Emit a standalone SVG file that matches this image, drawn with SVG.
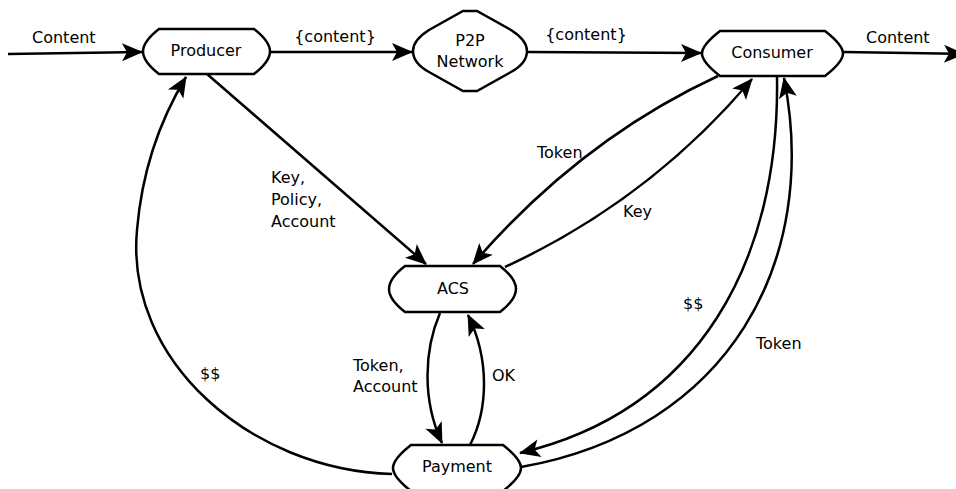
<svg xmlns="http://www.w3.org/2000/svg" width="956" height="489" viewBox="0 0 956 489">
<style>
.node{fill:#fff;stroke:#000;stroke-width:2.5;stroke-linejoin:miter}
.edge{fill:none;stroke:#000;stroke-width:2.5}
.arr{marker-end:url(#ah)}
text{font-family:"DejaVu Sans",sans-serif;font-size:16px;fill:#000}
.c{text-anchor:middle}
</style>
<defs>
<marker id="ah" markerUnits="userSpaceOnUse" markerWidth="24" markerHeight="22" viewBox="-22 -11 24 22" refX="0" refY="0" orient="auto">
<path d="M1 0 L-20 -9 L-15 0 L-20 9 Z" fill="#000"/>
</marker>
</defs>
<rect width="956" height="489" fill="#fff"/>
<g id="connectors">
<path class="edge arr" d="M8 54 L142 52"/>
<path class="edge arr" d="M270 52 L412 52"/>
<path class="edge arr" d="M527 52 L701 53"/>
<path class="edge arr" d="M843 52 L964 54"/>
<path class="edge arr" d="M207 74 L426 264"/>
<path class="edge arr" d="M718 76 Q580 140 473 264"/>
<path class="edge arr" d="M505 267 Q650 200 752 79"/>
<path class="edge arr" d="M440 313 C424 350 422 400 442 443"/>
<path class="edge arr" d="M470 445 C488 410 490 360 468 315"/>
<path class="edge arr" d="M392 474 C250 470 125 360 137 230 C142 170 160 120 186 77"/>
<path class="edge arr" d="M777 77 C780 260 700 410 520 453"/>
<path class="edge arr" d="M521 467 C730 430 820 260 784 78"/>
<text x="32" y="43">Content</text>
<text x="335" y="42" class="c">{content}</text>
<text x="586" y="40" class="c">{content}</text>
<text x="866" y="43">Content</text>
<text x="271" y="183">Key,</text>
<text x="271" y="205">Policy,</text>
<text x="271" y="227">Account</text>
<text x="537" y="158">Token</text>
<text x="623" y="217">Key</text>
<text x="353" y="371">Token,</text>
<text x="353" y="392">Account</text>
<text x="492" y="381">OK</text>
<text x="200" y="379">$$</text>
<text x="683" y="309">$$</text>
<text x="756" y="349">Token</text>
</g>
<g id="producer">
<path class="node" d="M159 29 H254 C263 36 270 44 270 51.5 C270 59 263 67 254 74 H159 C150 67 143 59 143 51.5 C143 44 150 36 159 29 Z"/>
<text x="206" y="56" class="c">Producer</text>
</g>
<g id="p2p">
<path class="node" d="M463 11 H477 L511 30 C522 37 527 44 527 51 C527 58 522 66 511 72 L477 91 H463 L429 72 C418 66 413 58 413 51 C413 44 418 37 429 30 Z"/>
<text x="470" y="46" class="c">P2P</text>
<text x="470" y="67" class="c">Network</text>
</g>
<g id="consumer">
<path class="node" d="M720 31 H825 C834 38 843 46 843 53.5 C843 61 834 69 825 76 H720 C711 69 702 61 702 53.5 C702 46 711 38 720 31 Z"/>
<text x="772" y="58" class="c">Consumer</text>
</g>
<g id="acs">
<path class="node" d="M405 266 H500 C509 273 516 281 516 289 C516 297 509 305 500 312 H405 C396 305 389 297 389 289 C389 281 396 273 405 266 Z"/>
<text x="453" y="294" class="c">ACS</text>
</g>
<g id="payment">
<path class="node" d="M411 445 H503 C512 452 521 460 521 468 C521 476 512 484 503 491 H411 C402 484 393 476 393 468 C393 460 402 452 411 445 Z"/>
<text x="457" y="472" class="c">Payment</text>
</g>
</svg>
